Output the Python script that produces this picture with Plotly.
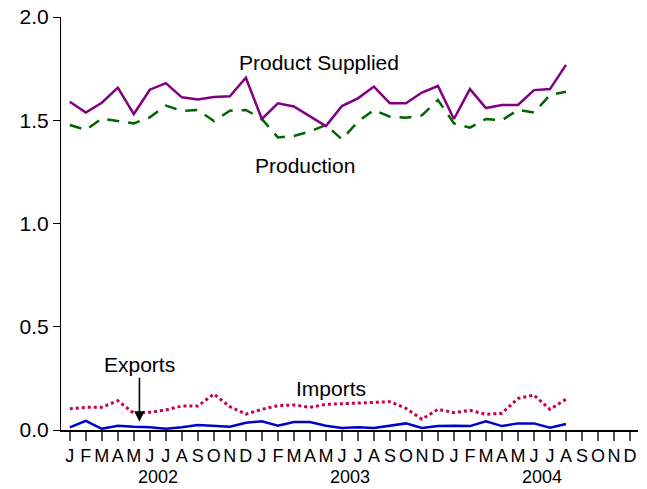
import plotly.graph_objects as go

months = ["J", "F", "M", "A", "M", "J", "J", "A", "S", "O", "N", "D"] * 3
years = ["2002", "2003", "2004"]

product_supplied = [1.590, 1.537, 1.585, 1.658, 1.530, 1.648, 1.680, 1.611, 1.601, 1.613,
                    1.616, 1.706, 1.506, 1.582, 1.567, 1.521, 1.472, 1.569, 1.606, 1.663,
                    1.582, 1.582, 1.634, 1.666, 1.506, 1.651, 1.559, 1.574, 1.574, 1.646,
                    1.651, 1.768]
production = [1.477, 1.453, 1.508, 1.495, 1.485, 1.514, 1.571, 1.545, 1.550, 1.496,
              1.546, 1.550, 1.506, 1.417, 1.424, 1.446, 1.477, 1.408, 1.493, 1.550,
              1.517, 1.512, 1.524, 1.598, 1.485, 1.464, 1.506, 1.500, 1.550, 1.537,
              1.622, 1.638]
imports = [0.103, 0.110, 0.110, 0.142, 0.081, 0.086, 0.097, 0.116, 0.116, 0.174,
           0.113, 0.077, 0.100, 0.118, 0.121, 0.110, 0.124, 0.127, 0.131, 0.132,
           0.137, 0.105, 0.052, 0.100, 0.084, 0.095, 0.076, 0.081, 0.153, 0.169,
           0.100, 0.149]
exports = [0.013, 0.044, 0.006, 0.021, 0.016, 0.013, 0.006, 0.013, 0.024, 0.019,
           0.016, 0.035, 0.042, 0.021, 0.039, 0.039, 0.021, 0.010, 0.013, 0.010,
           0.021, 0.032, 0.010, 0.019, 0.021, 0.019, 0.042, 0.019, 0.032, 0.032,
           0.011, 0.029]

x = list(range(len(product_supplied)))
FONT = "Liberation Sans, Arial, sans-serif"

fig = go.Figure()
fig.add_trace(go.Scatter(x=x, y=production, mode="lines",
                         line=dict(color="#006400", width=2.5, dash="12px,9px")))
fig.add_trace(go.Scatter(x=x, y=product_supplied, mode="lines",
                         line=dict(color="#800080", width=2.5)))
fig.add_trace(go.Scatter(x=x, y=imports, mode="lines",
                         line=dict(color="#C8004B", width=3, dash="dot")))
fig.add_trace(go.Scatter(x=x, y=exports, mode="lines",
                         line=dict(color="#0000CC", width=2.5)))

annots = [
    dict(x=15.55, y=1.782, text="Product Supplied", showarrow=False),
    dict(x=14.7, y=1.283, text="Production", showarrow=False),
    dict(x=16.3, y=0.203, text="Imports", showarrow=False),
    dict(x=4.35, y=0.04, ax=0, ay=-44, text="Exports", showarrow=True,
         arrowhead=2, arrowsize=1.3, arrowwidth=1.6, arrowcolor="black",
         yanchor="bottom"),
]
for a in annots:
    a["xref"] = "x"
    a["yref"] = "y"
    a["font"] = dict(family=FONT, size=21, color="black")
for i, yr in enumerate(years):
    annots.append(dict(x=i * 12 + 5.5, y=-0.114, xref="x", yref="paper", text=yr,
                       showarrow=False, yanchor="middle",
                       font=dict(family=FONT, size=18, color="black")))
fig.update_layout(annotations=annots)

fig.update_layout(
    width=647, height=489,
    margin=dict(l=61, r=9, t=17, b=59, autoexpand=False),
    paper_bgcolor="white", plot_bgcolor="white",
    showlegend=False,
    font=dict(family=FONT, color="black"),
    xaxis=dict(range=[-0.55, 35.5], tickvals=list(range(36)), ticktext=months,
               ticks="outside", ticklen=9, tickcolor="#555555", tickwidth=1.5,
               showline=True, linecolor="black", linewidth=1.5,
               showgrid=False, zeroline=False, automargin=False,
               ticklabeloverflow="allow",
               tickfont=dict(family=FONT, size=18, color="black")),
    yaxis=dict(range=[0, 2.0], tickvals=[0, 0.5, 1.0, 1.5, 2.0], tickformat=".1f",
               ticks="outside", ticklen=7, tickcolor="black", tickwidth=1.2,
               showline=True, linecolor="black", linewidth=1.2,
               showgrid=False, zeroline=False, automargin=False,
               ticklabeloverflow="allow",
               tickfont=dict(family=FONT, size=21, color="black")),
)

# remove the default 8px page margin so the figure fills the window exactly
fig.write_html("out.html", config={"displayModeBar": False},
               post_script="document.body.style.margin='0px';document.body.style.overflow='hidden';")
